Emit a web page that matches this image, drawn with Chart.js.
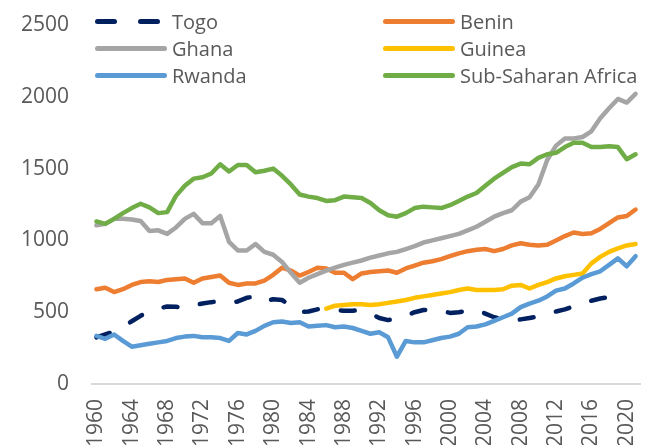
<!DOCTYPE html>
<html>
<head>
<meta charset="utf-8">
<script src="https://cdn.jsdelivr.net/npm/chart.js@4.4.1/dist/chart.umd.min.js"></script>
<style>
  body { margin: 0; overflow: hidden; background: #fff; }
  #wrap { position: relative; width: 645px; height: 460px; }
  #legend { position: absolute; left: 0; top: 0; font-family: "Open Sans", sans-serif; font-size: 20px; color: #595959; }
  .item { position: absolute; height: 27px; line-height: 27px; white-space: nowrap; }
  .swatch { position: absolute; top: 11px; height: 5px; border-radius: 3px; }
  .label { position: absolute; top: 0; }
</style>
</head>
<body>
<div id="wrap">
  <canvas id="gdpChart" width="645" height="460"></canvas>
  <div id="legend"></div>
</div>
<script>
const years = [
  "1960","1961","1962","1963","1964","1965","1966","1967","1968","1969",
  "1970","1971","1972","1973","1974","1975","1976","1977","1978","1979",
  "1980","1981","1982","1983","1984","1985","1986","1987","1988","1989",
  "1990","1991","1992","1993","1994","1995","1996","1997","1998","1999",
  "2000","2001","2002","2003","2004","2005","2006","2007","2008","2009",
  "2010","2011","2012","2013","2014","2015","2016","2017","2018","2019",
  "2020","2021"
];

const togo = [
  325, 345, 365, 400, 437, 475, 505, 525, 540, 538,
  530, 550, 560, 570, 577, 565, 575, 600, 610, 575,
  590, 585, 545, 500, 505, 520, 520, 515, 510, 510,
  515, 490, 460, 445, 455, 475, 500, 515, 520, 510,
  495, 500, 510, 515, 490, 465, 450, 440, 450, 460,
  470, 485, 505, 520, 540, 560, 580, 595, 605, 615,
  null, null
];

const benin = [
  660, 670, 640, 660, 690, 710, 715, 710, 725, 730,
  735, 705, 735, 745, 755, 705, 690, 700, 700, 720,
  760, 810, 790, 755, 780, 810, 805, 775, 775, 730,
  770, 780, 785, 790, 775, 805, 825, 845, 855, 870,
  890, 910, 925, 935, 940, 925, 940, 965, 980, 970,
  965, 970, 1000, 1030, 1055, 1045, 1050, 1080, 1120, 1160,
  1170, 1215
];

const ghana = [
  1105, 1115, 1150, 1150, 1145, 1135, 1065, 1070, 1045, 1090,
  1150, 1185, 1120, 1120, 1170, 990, 930, 930, 975, 920,
  900, 850, 775, 705, 740, 765, 790, 810, 830, 845,
  860, 880, 895, 910, 920, 940, 960, 985, 1000, 1015,
  1030, 1045, 1070, 1095, 1130, 1165, 1190, 1210, 1270, 1300,
  1390, 1560, 1660, 1710, 1710, 1720, 1760, 1850, 1920, 1985,
  1960, 2020
];

const guinea = [
  null, null, null, null, null, null, null, null, null, null,
  null, null, null, null, null, null, null, null, null, null,
  null, null, null, null, null, null, 525, 545, 550, 555,
  555, 550, 555, 565, 575, 585, 600, 610, 620, 630,
  640, 655, 665, 655, 655, 655, 660, 685, 690, 665,
  690, 710, 735, 750, 760, 770, 840, 885, 920, 945,
  965, 975
];

const rwanda = [
  335, 315, 345, 300, 260, 270, 280, 290, 300, 320,
  330, 335, 325, 325, 320, 300, 355, 345, 370, 405,
  430, 435, 425, 430, 400, 405, 410, 395, 400, 390,
  370, 350, 360, 325, 190, 300, 290, 290, 305, 320,
  330, 350, 395, 400, 415, 440, 465, 490, 535, 560,
  580, 610, 650, 665, 700, 740, 765, 785, 830, 875,
  820, 890
];

const ssa = [
  1132, 1115, 1150, 1190, 1225, 1255, 1230, 1190, 1197, 1310,
  1380, 1430, 1440, 1466, 1530, 1480, 1525, 1525, 1475, 1485,
  1500, 1450, 1390, 1320, 1305, 1295, 1275, 1280, 1305, 1300,
  1295, 1260, 1210, 1175, 1165, 1190, 1225, 1235, 1230, 1225,
  1245, 1275, 1305, 1330, 1380, 1430, 1470, 1510, 1535, 1530,
  1575, 1600, 1610, 1650, 1680, 1680, 1650, 1650, 1655, 1650,
  1565, 1600
];

const yTicks = [0, 500, 1000, 1500, 2000, 2500];

const series = [
  { label: "Togo", data: togo, color: "#002060", dash: true },
  { label: "Benin", data: benin, color: "#ED7D31" },
  { label: "Ghana", data: ghana, color: "#A5A5A5" },
  { label: "Guinea", data: guinea, color: "#FFC000" },
  { label: "Rwanda", data: rwanda, color: "#5B9BD5" },
  { label: "Sub-Saharan Africa", data: ssa, color: "#70AD47" }
];

const datasets = series.map((s, i) => ({
  label: s.label,
  data: s.data,
  borderColor: s.color,
  backgroundColor: s.color,
  borderWidth: 4.5,
  borderDash: s.dash ? [14, 23] : [],
  borderCapStyle: "round",
  borderJoinStyle: "round",
  pointRadius: 0,
  tension: 0,
  spanGaps: false,
  order: series.length - i   // later series drawn on top, like Excel
}));

new Chart(document.getElementById("gdpChart"), {
  type: "line",
  data: { labels: years, datasets: datasets },
  options: {
    responsive: false,
    animation: false,
    devicePixelRatio: 1,
    layout: { padding: { top: 25, right: 5, left: 0, bottom: 0 } },
    plugins: { legend: { display: false }, tooltip: { enabled: false } },
    scales: {
      x: {
        offset: true,
        grid: { display: false, drawTicks: false },
        border: { display: true, color: "#D9D9D9", width: 2 },
        ticks: {
          autoSkip: false,
          minRotation: 90,
          maxRotation: 90,
          padding: 15,
          color: "#595959",
          font: { family: "Open Sans", size: 21 },
          callback: function (val, index) {
            return index % 4 === 0 ? this.getLabelForValue(val) : "";
          }
        },
        afterFit: s => { s.height = 76; s.paddingRight = 0; s.paddingLeft = 0; }
      },
      y: {
        min: 0,
        max: 2500,
        afterBuildTicks: s => { s.ticks = yTicks.map(v => ({ value: v })); },
        grid: { display: false, drawTicks: false },
        border: { display: false },
        ticks: {
          padding: 23,
          color: "#595959",
          font: { family: "Open Sans", size: 21 },
          callback: v => String(v)
        },
        // keep the plot box where the picture has it
        afterFit: s => { s.width = 92; s.paddingTop = 0; s.paddingBottom = 0; }
      }
    }
  }
});

// legend drawn as html, inside the plot area in two columns
const legendPos = [
  { x: 95, y: 8 }, { x: 383, y: 8 },
  { x: 95, y: 35 }, { x: 383, y: 35 },
  { x: 95, y: 62 }, { x: 383, y: 62 }
];
const legend = document.getElementById("legend");
series.forEach((s, i) => {
  const item = document.createElement("div");
  item.className = "item";
  item.style.left = legendPos[i].x + "px";
  item.style.top = legendPos[i].y + "px";
  let html = "";
  if (s.dash) {
    html += `<span class="swatch" style="left:0;width:22px;background:${s.color}"></span>`;
    html += `<span class="swatch" style="left:43px;width:22px;background:${s.color}"></span>`;
  } else {
    html += `<span class="swatch" style="left:0;width:72px;background:${s.color}"></span>`;
  }
  html += `<span class="label" style="left:77px">${s.label}</span>`;
  item.innerHTML = html;
  legend.appendChild(item);
});
</script>
</body>
</html>
